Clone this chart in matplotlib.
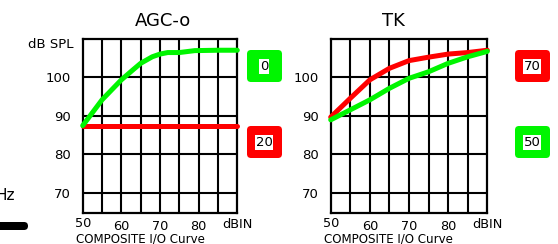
import matplotlib.pyplot as plt
import numpy as np
from matplotlib.patches import FancyBboxPatch
from matplotlib.transforms import offset_copy

# input level (dB IN)
x_in = [50, 55, 60, 63, 65, 68, 70, 72, 75, 79, 85, 90]

# AGC-o panel
agc_green = [87.4, 94.1, 99.3, 101.9, 103.6, 105.3, 106.0, 106.4, 106.4, 106.9, 107.0, 107.0]
agc_red = [87.2] * len(x_in)

# TK panel
x_tk = [50, 55, 60, 65, 70, 75, 80, 85, 90]
tk_red = [89.6, 94.5, 99.3, 102.3, 104.3, 105.2, 106.0, 106.4, 107.0]
tk_green = [88.9, 91.5, 94.1, 97.1, 99.7, 101.4, 103.6, 105.3, 106.7]

ytick_vals = [70, 80, 90, 100]
xtick_vals = [50, 60, 70, 80, 90]
xtick_text = ['50', '60', '70', '80', 'dBIN']
xtick_drop = [-9.0, -12.0, -12.0, -12.0, -9.2]

GREEN = '#00f500'
RED = '#ff0000'

W, H = 558, 244
fig = plt.figure(figsize=(W / 100, H / 100), dpi=100)


def px_axes(x0, y0, x1, y1):
    return fig.add_axes([x0 / W, 1 - y1 / H, (x1 - x0) / W, (y1 - y0) / H])


def setup(ax):
    ax.set_xlim(50, 90)
    ax.set_ylim(64.6, 110)
    for v in range(55, 90, 5):
        ax.axvline(v, color='black', lw=1.5, zorder=1)
    for v in ytick_vals:
        ax.axhline(v, color='black', lw=1.5, zorder=1)
    for s in ax.spines.values():
        s.set_linewidth(1.6)
    ax.set_xticks([])
    ax.set_yticks(ytick_vals)
    ax.set_yticklabels([str(v) for v in ytick_vals], fontsize=9.5)
    ax.tick_params(axis='y', length=0, pad=8.5)
    for v, t, d in zip(xtick_vals, xtick_text, xtick_drop):
        tr = offset_copy(ax.get_xaxis_transform(), fig=fig, x=0, y=d, units='dots')
        ax.text(v, 0, t, transform=tr, ha='center', va='center_baseline', fontsize=9.3)


lw = 3.6
ax1 = px_axes(82.7, 38.7, 237.3, 213.3)
setup(ax1)
ax1.plot(x_in, agc_red, color=RED, lw=lw, solid_capstyle='round', clip_on=False, zorder=3)
ax1.plot(x_in, agc_green, color=GREEN, lw=lw, solid_capstyle='round', clip_on=False, zorder=4)

ax2 = px_axes(330.7, 38.7, 487.3, 213.3)
setup(ax2)
ax2.plot(x_tk, tk_red, color=RED, lw=lw, solid_capstyle='round', clip_on=False, zorder=3)
ax2.plot(x_tk, tk_green, color=GREEN, lw=lw, solid_capstyle='round', clip_on=False, zorder=4)

# overlay in pixel coordinates for labels and badges
ov = fig.add_axes([0, 0, 1, 1], zorder=-1)
ov.set_xlim(0, W)
ov.set_ylim(H, 0)
ov.axis('off')

ov.text(163, 21, 'AGC-o', ha='center', va='center', fontsize=13)
ov.text(393, 21, 'TK', ha='center', va='center', fontsize=13)
ov.text(73, 45, 'dB SPL', ha='right', va='center', fontsize=9.5)
ov.text(140, 239, 'COMPOSITE I/O Curve', ha='center', va='center', fontsize=8.6)
ov.text(388, 239, 'COMPOSITE I/O Curve', ha='center', va='center', fontsize=8.6)
ov.text(15, 196, 'Hz', ha='right', va='center', fontsize=11)

ov.add_patch(FancyBboxPatch((-20, 222), 48, 8, boxstyle='round,pad=0,rounding_size=4',
                            fc='black', ec='none', clip_on=False))

badges = [(247, 50, GREEN, '0'), (247, 126, RED, '20'),
          (515, 50, RED, '70'), (515, 126, GREEN, '50')]
for bx, by, col, txt in badges:
    ov.add_patch(FancyBboxPatch((bx, by), 35, 32, boxstyle='round,pad=0,rounding_size=4',
                                fc=col, ec='none', clip_on=False))
    ov.text(bx + 17, by + 16.5, txt, ha='center', va='center', fontsize=9.5,
            bbox=dict(fc='white', ec='none', pad=0.6))

fig.savefig('out.png', dpi=100)
